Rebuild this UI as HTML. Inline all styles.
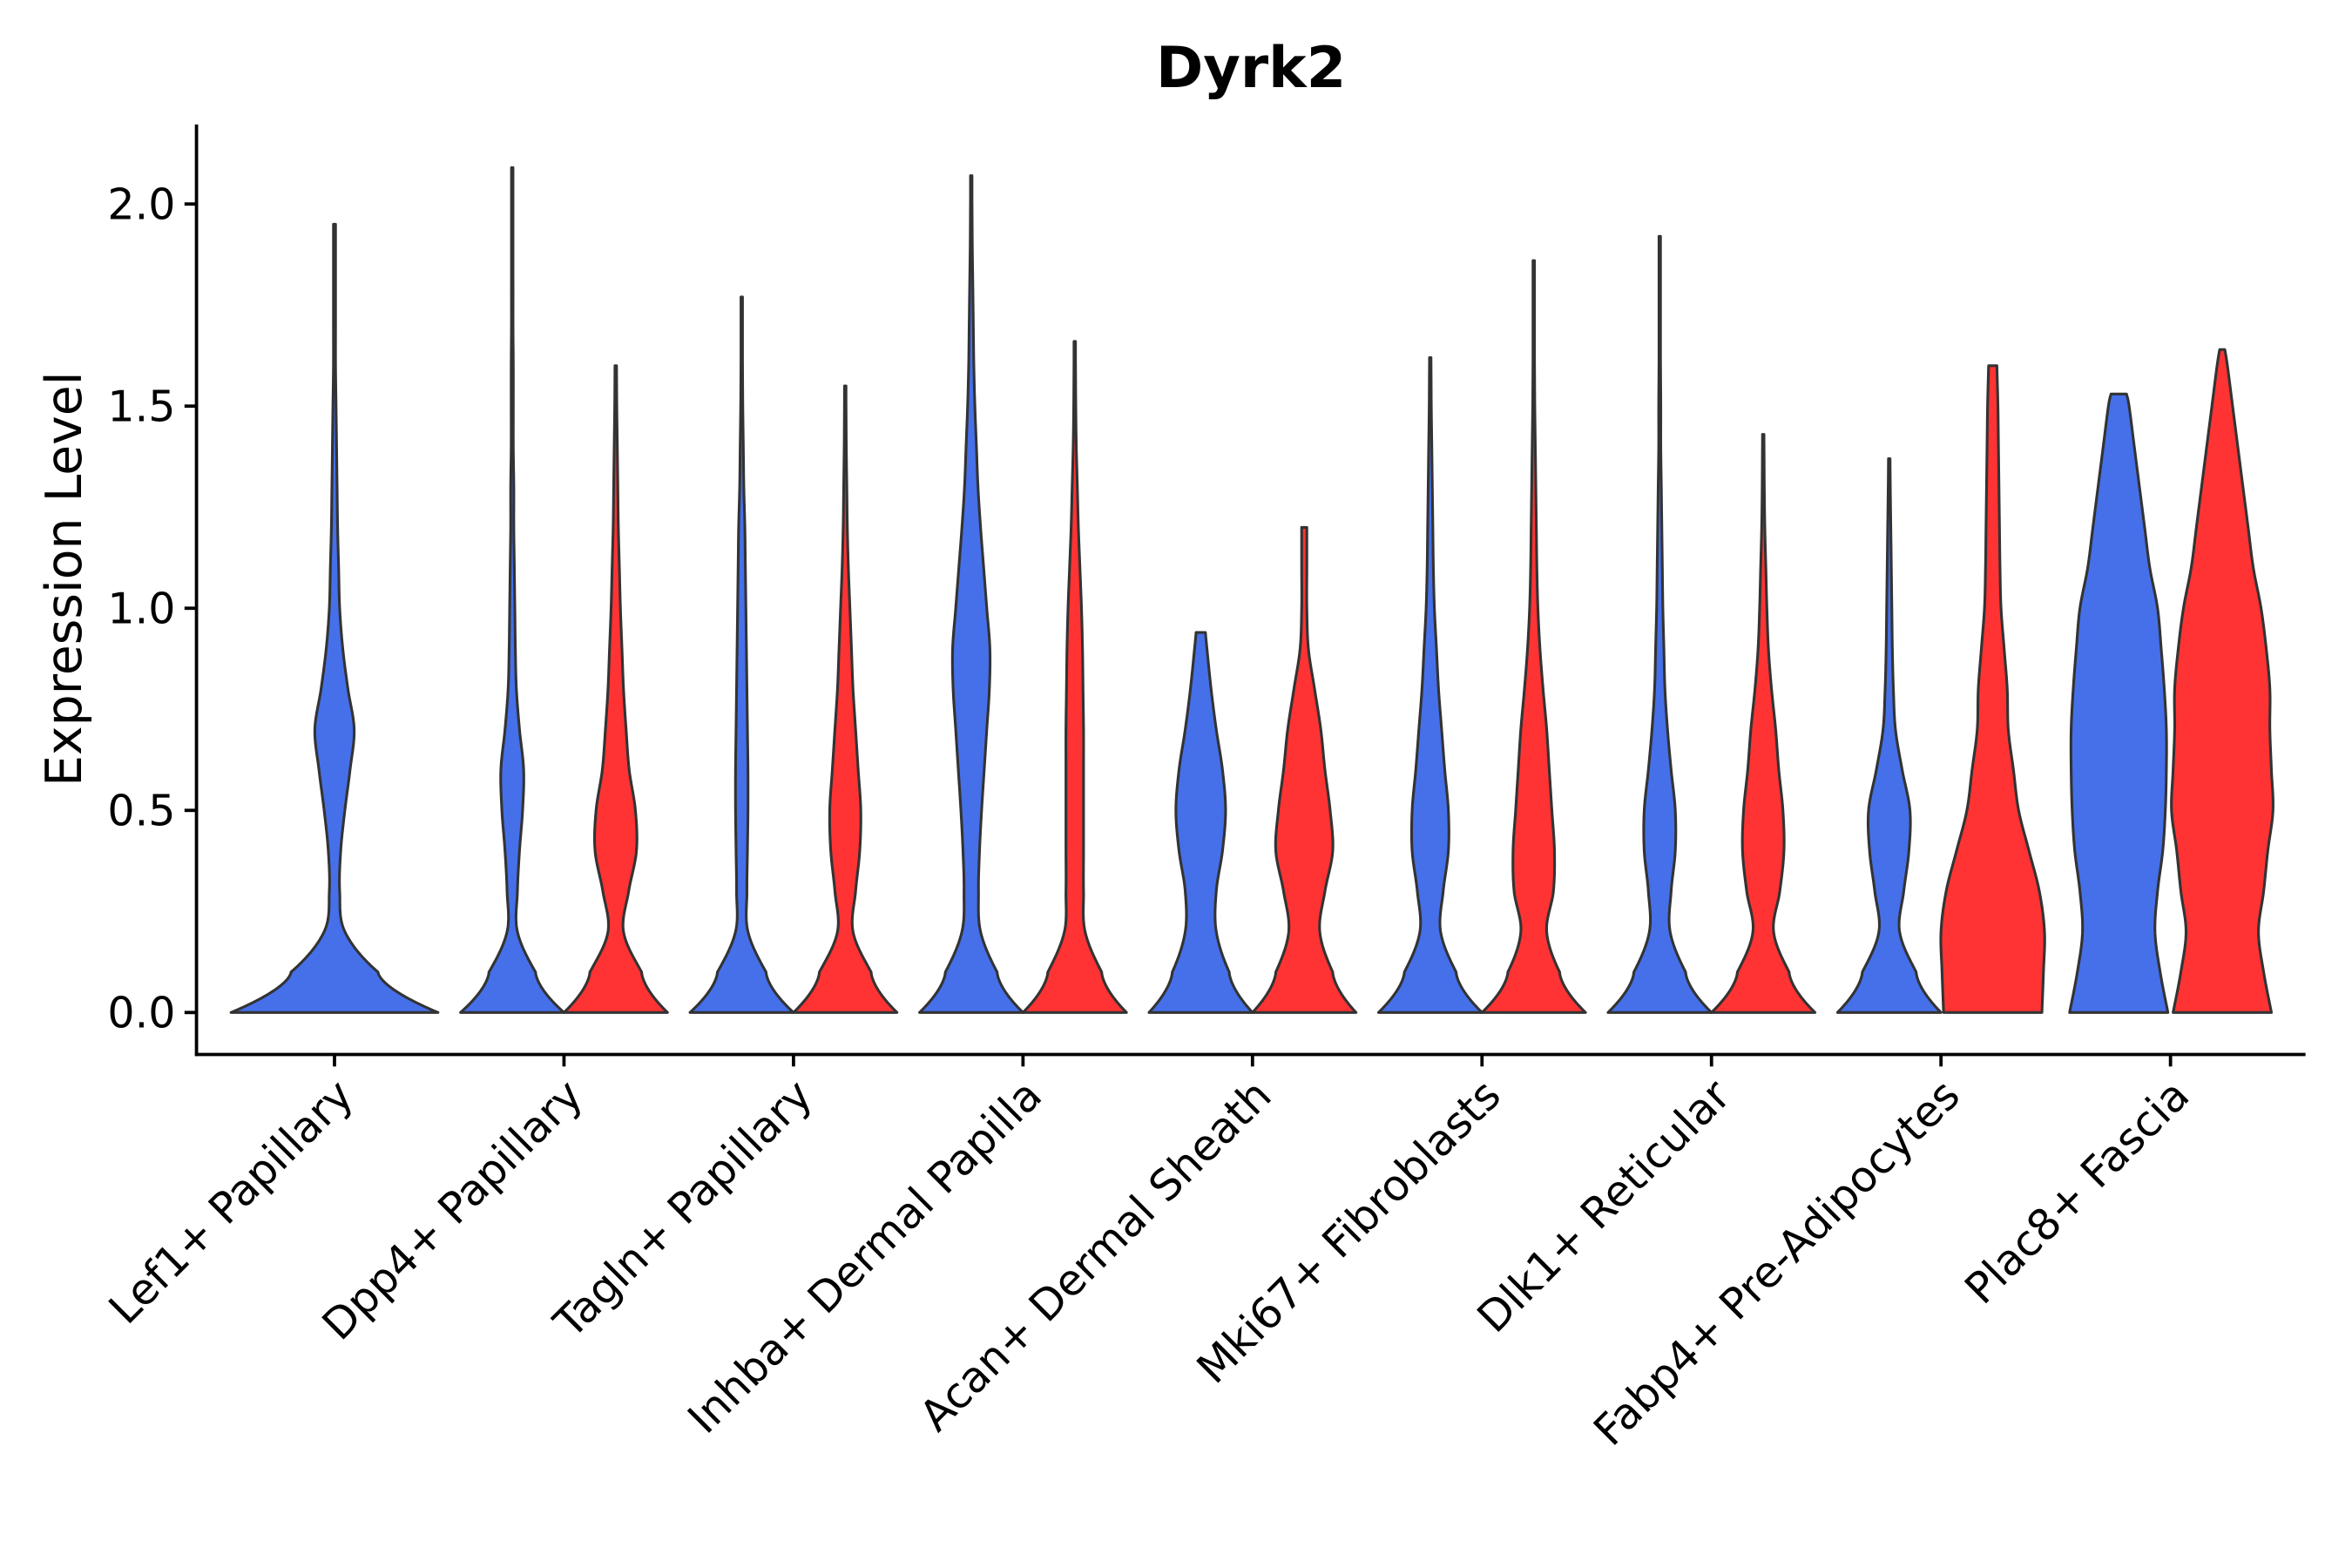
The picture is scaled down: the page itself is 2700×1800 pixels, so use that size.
<!DOCTYPE html>
<html><head><meta charset="utf-8"><style>
html,body{margin:0;padding:0;background:#fff}
svg{display:block}
text{font-family:"DejaVu Sans","Liberation Sans",sans-serif;fill:#000}
</style></head><body>
<svg id="chart" width="2700" height="1800" viewBox="0 0 1568 1045.33" xmlns="http://www.w3.org/2000/svg">
<text x="834" y="58" font-size="38" font-weight="bold" text-anchor="middle">Dyrk2</text>
<text transform="translate(54,386) rotate(-90)" font-size="33" text-anchor="middle">Expression Level</text>
<g id="violins"></g>
<g id="axes"></g>
</svg>
<script>
const categories = ["Lef1+ Papillary","Dpp4+ Papillary","Tagln+ Papillary","Inhba+ Dermal Papilla","Acan+ Dermal Sheath","Mki67+ Fibroblasts","Dlk1+ Reticular","Fabp4+ Pre-Adipocytes","Plac8+ Fascia"];
const yTicks = [0, 0.5, 1.0, 1.5, 2.0];
const yTickLabels = ["0.0","0.5","1.0","1.5","2.0"];
const blueMax = [1.95,2.09,1.77,2.07,0.94,1.62,1.92,1.37,1.53];
const blueWidths = [
[1.0,0.42,0.1,0.05,0.06,0.1,0.15,0.19,0.13,0.08,0.05,0.04,0.03,0.025,0.02,0.015,0.01,0.01,0.01,0.01,0.01],
[1,0.45,0.1,0.1,0.14,0.2,0.22,0.14,0.08,0.06,0.05,0.04,0.03,0.03,0.02,0.02,0.02,0.015,0.015,0.01,0.01,0.01],
[1,0.47,0.12,0.1,0.11,0.12,0.12,0.11,0.1,0.09,0.08,0.07,0.06,0.04,0.03,0.02,0.015,0.01,0.01],
[1,0.5,0.18,0.14,0.16,0.2,0.25,0.3,0.35,0.36,0.3,0.24,0.18,0.13,0.1,0.07,0.05,0.04,0.03,0.02,0.015,0.01],
[1,0.55,0.3,0.3,0.42,0.48,0.42,0.3,0.2,0.12,0.09],
[1,0.5,0.2,0.25,0.35,0.35,0.28,0.22,0.16,0.12,0.08,0.06,0.05,0.04,0.03,0.02,0.015,0.01],
[1,0.5,0.2,0.22,0.3,0.3,0.22,0.15,0.1,0.08,0.06,0.05,0.04,0.03,0.02,0.02,0.015,0.01,0.01,0.01,0.01],
[1,0.52,0.2,0.28,0.38,0.4,0.25,0.12,0.08,0.06,0.05,0.04,0.03,0.02,0.015],
[0.95,0.8,0.7,0.75,0.85,0.9,0.92,0.92,0.88,0.82,0.75,0.6,0.5,0.4,0.3,0.2,0.15]
];
const redMax = [null,1.6,1.55,1.66,1.2,1.86,1.43,1.6,1.64];
const redWidths = [
null,
[1,0.5,0.15,0.25,0.4,0.38,0.26,0.2,0.15,0.12,0.09,0.07,0.05,0.04,0.03,0.02,0.015],
[1,0.5,0.15,0.2,0.28,0.3,0.25,0.2,0.15,0.12,0.09,0.06,0.04,0.03,0.02,0.015,0.01],
[1,0.52,0.2,0.17,0.17,0.17,0.17,0.17,0.16,0.15,0.13,0.1,0.07,0.05,0.03,0.02,0.015,0.01],
[1,0.55,0.3,0.4,0.55,0.5,0.4,0.32,0.2,0.08,0.05,0.05,0.05],
[1,0.5,0.25,0.38,0.4,0.35,0.3,0.25,0.18,0.12,0.08,0.06,0.05,0.04,0.03,0.02,0.015,0.01,0.01,0.01],
[1,0.5,0.2,0.32,0.4,0.38,0.3,0.24,0.16,0.1,0.07,0.05,0.03,0.02,0.015,0.01],
[0.95,0.98,1.0,0.9,0.7,0.5,0.4,0.3,0.28,0.22,0.16,0.14,0.13,0.12,0.11,0.1,0.08],
[0.95,0.8,0.7,0.8,0.88,0.98,0.95,0.92,0.92,0.85,0.75,0.6,0.5,0.4,0.3,0.2,0.1,0.05]
];

const NS="http://www.w3.org/2000/svg";
const X0=223, DX=153, SPAN=69;
const xPos = i => X0 + i*DX;
const yPos = v => 675 - v*269.5;
const BLUE="#4570ea", RED="#ff3333";

function violinPath(cx, half, widths, ymax){
  const pts=[];
  for(let i=0;i<widths.length;i++){
    const v=Math.min(i*0.1,ymax);
    pts.push([yPos(v), widths[i]*half]);
  }
  const dense=[];
  for(let i=0;i<pts.length-1;i++){
    const p0=pts[Math.max(i-1,0)],p1=pts[i],p2=pts[i+1],p3=pts[Math.min(i+2,pts.length-1)];
    const concaveBase = (i===0 && p1[1]>p2[1]*1.8);
    for(let k=0;k<20;k++){
      const t=k/20;
      let y,w;
      if(concaveBase){
        y=p1[0]+(p2[0]-p1[0])*t;
        const s=1-Math.pow(1-t,1.6);
        w=p1[1]+(p2[1]-p1[1])*s;
      } else {
        const t2=t*t,t3=t2*t;
        const f=(a,b,c,d)=>0.5*((2*b)+(-a+c)*t+(2*a-5*b+4*c-d)*t2+(-a+3*b-3*c+d)*t3);
        y=f(p0[0],p1[0],p2[0],p3[0]); w=f(p0[1],p1[1],p2[1],p3[1]);
      }
      dense.push([y, Math.max(0.5,w)]);
    }
  }
  dense.push([pts[pts.length-1][0], Math.max(0.5,pts[pts.length-1][1])]);
  let d="M"+(cx-dense[0][1]).toFixed(2)+","+dense[0][0].toFixed(2);
  for(const p of dense) d+="L"+(cx-p[1]).toFixed(2)+","+p[0].toFixed(2);
  for(let i=dense.length-1;i>=0;i--) d+="L"+(cx+dense[i][1]).toFixed(2)+","+dense[i][0].toFixed(2);
  return d+"Z";
}

const vg=document.getElementById("violins");
categories.forEach((c,i)=>{
  const cx=xPos(i);
  if(redMax[i]===null){
    const p=document.createElementNS(NS,"path");
    p.setAttribute("d",violinPath(cx,SPAN,blueWidths[i],blueMax[i]));
    p.setAttribute("fill",BLUE);p.setAttribute("stroke","#333");p.setAttribute("stroke-width","1.8");p.setAttribute("stroke-linejoin","round");
    
    
    vg.appendChild(p);
  } else {
    const p=document.createElementNS(NS,"path");
    p.setAttribute("d",violinPath(cx-SPAN/2,SPAN/2,blueWidths[i],blueMax[i]));
    p.setAttribute("fill",BLUE);p.setAttribute("stroke","#333");p.setAttribute("stroke-width","1.8");p.setAttribute("stroke-linejoin","round");
    
    
    vg.appendChild(p);
    const q=document.createElementNS(NS,"path");
    q.setAttribute("d",violinPath(cx+SPAN/2,SPAN/2,redWidths[i],redMax[i]));
    q.setAttribute("fill",RED);q.setAttribute("stroke","#333");q.setAttribute("stroke-width","1.8");q.setAttribute("stroke-linejoin","round");
    
    
    vg.appendChild(q);
  }
});

const ag=document.getElementById("axes");
function line(x1,y1,x2,y2,name){
  const l=document.createElementNS(NS,"line");
  l.setAttribute("x1",x1);l.setAttribute("y1",y1);l.setAttribute("x2",x2);l.setAttribute("y2",y2);
  l.setAttribute("stroke","#000");l.setAttribute("stroke-width","2.2");
  
  
  ag.appendChild(l);
}
line(131,83,131,704,"y-axis-line");
line(130,703,1537,703,"x-axis-line");
yTicks.forEach((v,i)=>{
  line(123,yPos(v),131,yPos(v),"y-tick");
  const t=document.createElementNS(NS,"text");
  t.setAttribute("x",117);t.setAttribute("y",yPos(v)+10);t.setAttribute("font-size","28.5");t.setAttribute("text-anchor","end");
  t.textContent=yTickLabels[i];
  
  
  ag.appendChild(t);
});
categories.forEach((c,i)=>{
  const x=xPos(i);
  line(x,703,x,711,"x-tick");
  const t=document.createElementNS(NS,"text");
  t.setAttribute("transform","translate("+(x+14)+",732) rotate(-45)");
  t.setAttribute("font-size","28.5");t.setAttribute("text-anchor","end");
  t.textContent=c;
  
  
  ag.appendChild(t);
});
</script>
</body></html>
